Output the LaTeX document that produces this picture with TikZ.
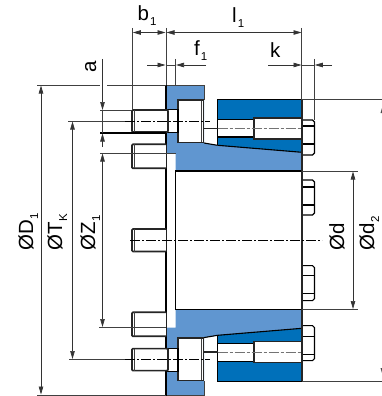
\documentclass[tikz,border=0pt]{standalone}
\usepackage{fontspec}
\setmainfont{Liberation Sans}
\usetikzlibrary{arrows.meta}
\definecolor{hubblue}{HTML}{6096D0}
\definecolor{ringblue}{HTML}{0070BA}
\tikzset{
	part/.style={line width=1.1pt, color=black},
	heavy/.style={line width=1.7pt, color=black!85},
	thin part/.style={line width=0.7pt, color=black!75},
	dimline/.style={line width=0.7pt, color=black!80, {Triangle[length=8pt,width=4.5pt]}-{Triangle[length=8pt,width=4.5pt]}},
	leader/.style={line width=0.7pt, color=black!80, -{Triangle[length=8pt,width=4.5pt]}},
	ext/.style={line width=0.7pt, color=black!75},
	axis/.style={line width=0.7pt, color=black, dash pattern=on 10pt off 2pt on 2pt off 2pt},
	boltaxis/.style={line width=1.2pt, color=black!55, dash pattern=on 10pt off 2pt on 3pt off 2pt},
	label/.style={font=\fontsize{20.5}{20.5}\selectfont, inner sep=0pt, anchor=base west},
}
\def\sbs#1{\hspace{1pt}\raisebox{-5pt}{\fontsize{11.5}{11.5}\selectfont #1}}
% one half of the section, seen from the axis upwards
\def\halfsection{
	\fill[hubblue] (166, 85) -- (204, 85) -- (204, 143) -- (217.5, 145.3) -- (302, 152.3) -- (302, 171) -- (175.6, 171) -- (175.6, 153) -- (166, 153) -- cycle;
	\draw[thin part] (166, 85) -- (204, 85) -- (204, 100);
	\draw[part] (204, 143) -- (217.5, 145.3);
	\draw[part] (175.6, 240.3) -- (175.6, 171) -- (302, 171);
	\draw[part] (166, 240.3) -- (166, 85);
	
	% ring
	\fill[ringblue] (217.5, 99.5) -- (302, 99.5) -- (302, 152.3) -- (217.5, 145.3) -- cycle;
	\draw[part] (217.5, 145.3) -- (217.5, 99.5) -- (302, 99.5);
	\draw[part] (217.5, 145.3) -- (302, 152.3);
	\draw[part, fill=white] (217.5, 119.5) rectangle (254, 137);
	\draw[heavy, fill=white] (254, 118) rectangle (302, 139);
	\draw[boltaxis] (217.5, 128.5) -- (308, 128.5);
	\draw[heavy] (204, 128.5) -- (217.5, 128.5);
	
	% flange bolt
	\draw[heavy, fill=white] (178, 100) rectangle (203.5, 142.5);
	\draw[thin part] (201, 101) -- (201, 141.5);
	\draw[part, fill=white] (166, 109.5) rectangle (178, 132.5);
	\draw[heavy, fill=white, rounded corners=1pt] (168, 110) -- (132, 110) -- (132, 132) -- (168, 132) -- cycle;
	\draw[thin part] (134.5, 110) -- (134.5, 132);
	\draw[axis] (125, 121) -- (210, 121);
	
	% short stud
	\draw[heavy, fill=white, rounded corners=1pt] (166, 144.3) -- (132, 144.3) -- (132, 168.3) -- (166, 168.3);
	\draw[thin part] (134.5, 144.3) -- (134.5, 168.3);
	
	% hex heads
	\draw[part, fill=white] (302, 120) -- (312.5, 120) -- (314.5, 122) -- (314.5, 153) -- (312.5, 155) -- (302, 155);
	\draw[part] (302, 126) -- (314.5, 126);
	\draw[part] (302, 144) -- (314.5, 144);
	\draw[part, fill=white] (302, 180) -- (312.5, 180) -- (314.5, 182) -- (314.5, 213) -- (312.5, 215) -- (302, 215);
	\draw[part] (302, 187) -- (314.5, 187);
	\draw[part] (302, 205) -- (314.5, 205);
	\draw[heavy] (302, 99.5) -- (302, 240.3);
}

\begin{document}
\begin{tikzpicture}[x=1pt, y=-1pt]
	\useasboundingbox (0, 0) rectangle (382, 396);
	%%%%% SECTION %%%%%
	
	\halfsection
	\begin{scope}[shift={(0, 480.6)}, yscale=-1]
		\halfsection
	\end{scope}
	
	\draw[heavy, fill=white, rounded corners=1pt] (166, 229) -- (132, 229) -- (132, 251.5) -- (166, 251.5);
	\draw[thin part] (134.5, 229) -- (134.5, 251.5);
	\draw[axis] (130, 240.5) -- (322, 240.5);
	
	%%%%% EXTENSION LINES %%%%%
	
	\draw[ext] (37, 85) -- (100, 85);
	\draw[ext] (107, 85) -- (166, 85);
	\draw[ext] (37, 395.3) -- (166, 395.3);
	\draw[ext] (68, 121) -- (125, 121);
	\draw[ext] (69, 359.6) -- (125, 359.6);
	\draw[ext] (100, 110) -- (132, 110);
	\draw[part] (100, 133) -- (166, 133);
	\draw[ext] (100, 153) -- (175.6, 153);
	\draw[ext] (99, 327.7) -- (166, 327.7);
	\draw[ext] (132.3, 28) -- (132.3, 110);
	\draw[ext] (166, 28) -- (166, 85);
	\draw[ext] (175.6, 59) -- (175.6, 85);
	\draw[ext] (301.8, 28) -- (301.8, 99.5);
	\draw[ext] (314.3, 59) -- (314.3, 120);
	\draw[ext] (302, 99.5) -- (382, 99.5);
	\draw[ext] (302, 381) -- (382, 381);
	\draw[ext] (302, 171) -- (358, 171);
	\draw[ext] (302, 309.7) -- (358, 309.7);
	
	%%%%% DIMENSIONS %%%%%
	
	\draw[dimline] (41, 85.5) -- (41, 394.5);
	\draw[dimline] (72.5, 121.5) -- (72.5, 359);
	\draw[dimline] (102.5, 153.5) -- (102.5, 327);
	\draw[leader] (102.5, 59) -- (102.5, 110);
	\draw[ext] (102.5, 110) -- (102.5, 133);
	\draw[leader] (102.5, 147) -- (102.5, 133.5);
	\draw[dimline] (353, 171.5) -- (353, 309);
	\draw[dimline] (132.8, 32.5) -- (165.5, 32.5);
	\draw[dimline] (166.5, 32.5) -- (301.5, 32.5);
	\draw[leader] (147, 65) -- (165.5, 65);
	\draw[ext] (166, 65) -- (175.6, 65);
	\draw[leader] (206, 65) -- (176, 65);
	\draw[leader] (268, 65) -- (301.5, 65);
	\draw[ext] (302, 65) -- (314.3, 65);
	\draw[leader] (332, 65) -- (314.8, 65);
	\fill[black!70] (380.5, 113) -- (382, 108) -- (382, 113) -- cycle;
	\fill[black!70] (380.5, 368) -- (382, 373) -- (382, 368) -- cycle;
	
	%%%%% LABELS %%%%%
	
	\node[label] (labb) at (137.5, 20.7) {b\sbs{1}};
	\node[label] (labl) at (232, 23) {l\sbs{1}};
	\node[label] (labf) at (194, 56) {f\sbs{1}};
	\node[label] (labk) at (270, 58) {k};
	\node[label, rotate=90] (laba) at (96, 73) {a};
	\node[label, rotate=90] (labD) at (33, 251) {ØD\sbs{1}};
	\node[label, rotate=90] (labT) at (62, 251) {ØT\sbs{K}};
	\node[label, rotate=90] (labZ) at (95, 251) {ØZ\sbs{1}};
	\node[label, rotate=90] (labd) at (344, 251) {Ød};
	\node[label, rotate=90] (labdd) at (374, 251) {Ød\sbs{2}};
\end{tikzpicture}
\end{document}
